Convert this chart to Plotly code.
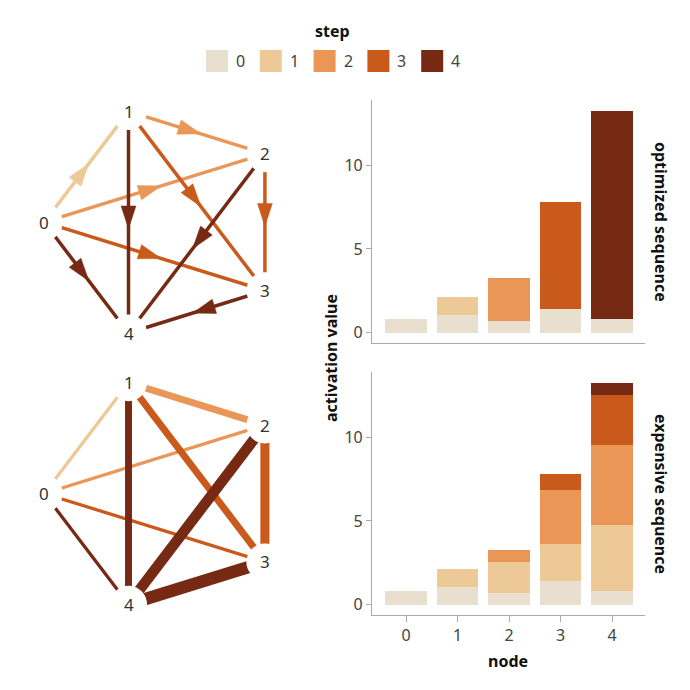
import numpy as np
import plotly.graph_objects as go

# Data
nodes = [0, 1, 2, 3, 4]
steps = [0, 1, 2, 3, 4]
STEP_COLORS = ['#e8dfcf', '#edc998', '#e99656', '#c95a1b', '#772a13']

# activation added to each node at each step (one list per step, indexed by node)
opt_step0 = [0.83, 1.04, 0.72, 1.40, 0.84]
opt_step1 = [0, 1.11, 0, 0, 0]
opt_step2 = [0, 0, 2.53, 0, 0]
opt_step3 = [0, 0, 0, 6.41, 0]
opt_step4 = [0, 0, 0, 0, 12.40]

exp_step0 = [0.83, 1.04, 0.72, 1.40, 0.84]
exp_step1 = [0, 1.11, 1.85, 2.21, 3.90]
exp_step2 = [0, 0, 0.68, 3.26, 4.78]
exp_step3 = [0, 0, 0, 0.94, 3.03]
exp_step4 = [0, 0, 0, 0, 0.69]

opt_gain = [opt_step0, opt_step1, opt_step2, opt_step3, opt_step4]
exp_gain = [exp_step0, exp_step1, exp_step2, exp_step3, exp_step4]

# graph edges (source, target); colour = step of the target
edge_src = [0, 0, 0, 0, 1, 1, 1, 2, 2, 3]
edge_dst = [1, 2, 3, 4, 2, 3, 4, 3, 4, 4]
# relative edge weight in the expensive sequence
exp_weight = [1.0, 1.0, 1.0, 1.0, 2.1, 2.1, 2.1, 2.75, 3.2, 3.8]

FONT = 'Noto Sans'
TXT = '#333333'
AXIS = '#aaaaaa'
W = H = 690


def px(v):
    return v / W


def py(v):
    return 1 - v / H


fig = go.Figure()

# ---- stacked bars ----
for s in steps:
    fig.add_trace(go.Bar(x=nodes, y=opt_gain[s], marker_color=STEP_COLORS[s], width=0.8,
                         marker_line_width=0, xaxis='x', yaxis='y', showlegend=False))
    fig.add_trace(go.Bar(x=nodes, y=exp_gain[s], marker_color=STEP_COLORS[s], width=0.8,
                         marker_line_width=0, xaxis='x2', yaxis='y2', showlegend=False))

# ---- node-link graphs ----
gx_range = [-1.3623, 1.2607]
gy_range = [-1.1399, 1.1348]
g_w, g_h = 320, 265           # pixel size of each graph panel
sx = g_w / (gx_range[1] - gx_range[0])
sy = g_h / (gy_range[1] - gy_range[0])

ang = np.deg2rad([180, 108, 36, -36, -108])
nx_ = np.cos(ang)
ny_ = np.sin(ang)

order = sorted(range(len(edge_src)), key=lambda k: edge_dst[k])
for k in order:
    a, b = edge_src[k], edge_dst[k]
    col = STEP_COLORS[b]
    # optimized: thin lines with an arrowhead just past the middle
    fig.add_trace(go.Scatter(
        x=[nx_[a], nx_[b]], y=[ny_[a], ny_[b]], mode='lines',
        line=dict(color=col, width=3.5),
        xaxis='x3', yaxis='y3', showlegend=False, hoverinfo='skip'))
    rot = np.degrees(np.arctan2((nx_[b] - nx_[a]) * sx, (ny_[b] - ny_[a]) * sy))
    t = 0.53
    fig.add_trace(go.Scatter(
        x=[nx_[a] + t * (nx_[b] - nx_[a])], y=[ny_[a] + t * (ny_[b] - ny_[a])],
        mode='markers',
        marker=dict(symbol='arrow', size=24, color=col, angle=rot, opacity=1,
                    line=dict(width=0.5, color=col)),
        xaxis='x3', yaxis='y3', showlegend=False, hoverinfo='skip'))
    # expensive: width encodes the weight
    fig.add_trace(go.Scatter(
        x=[nx_[a], nx_[b]], y=[ny_[a], ny_[b]], mode='lines',
        line=dict(color=col, width=3.3 * exp_weight[k]),
        xaxis='x4', yaxis='y4', showlegend=False, hoverinfo='skip'))

for xa, ya in [('x3', 'y3'), ('x4', 'y4')]:
    fig.add_trace(go.Scatter(
        x=nx_, y=ny_, mode='markers',
        marker=dict(size=37, color='white', line_width=0),
        xaxis=xa, yaxis=ya, showlegend=False, hoverinfo='skip'))
    for n in nodes:
        fig.add_annotation(x=nx_[n], y=ny_[n], xref=xa, yref=ya, text=str(n),
                           showarrow=False, xanchor='center', yanchor='middle',
                           font=dict(family=FONT, size=17, color=TXT))

# ---- axes ----
bar_x = [px(372), px(645)]
xr = [-0.66, 4.64]
yr = [-0.62, 13.9]
common_y = dict(range=yr, showline=True, linecolor=AXIS, linewidth=1.2, ticks='outside',
                ticklen=5, tickcolor=AXIS, tickvals=[0, 5, 10], showgrid=False,
                zeroline=False, tickfont=dict(family=FONT, size=16, color='#444'))
fig.update_layout(
    xaxis=dict(domain=bar_x, anchor='y', range=xr, showline=True, linecolor=AXIS,
               linewidth=1.2, ticks='', showticklabels=False, showgrid=False, zeroline=False),
    yaxis=dict(domain=[py(343), py(100)], anchor='x', **common_y),
    xaxis2=dict(domain=bar_x, anchor='y2', range=xr, showline=True, linecolor=AXIS,
                linewidth=1.2, ticks='outside', ticklen=6, tickcolor=AXIS, tickvals=nodes,
                showgrid=False, zeroline=False,
                tickfont=dict(family=FONT, size=16, color='#444')),
    yaxis2=dict(domain=[py(615), py(372)], anchor='x2', **common_y),
    xaxis3=dict(domain=[0, px(g_w)], anchor='y3', range=gx_range, visible=False),
    yaxis3=dict(domain=[py(90 + g_h), py(90)], anchor='x3', range=gy_range, visible=False),
    xaxis4=dict(domain=[0, px(g_w)], anchor='y4', range=gx_range, visible=False),
    yaxis4=dict(domain=[py(361.3 + g_h), py(361.3)], anchor='x4', range=gy_range,
                visible=False),
    barmode='stack',
    width=W, height=H,
    margin=dict(l=0, r=0, t=0, b=0),
    plot_bgcolor='white', paper_bgcolor='white',
    font=dict(family=FONT, color=TXT),
)


def label(text, x, y, angle=0, size=16, color='#111', xanchor='center'):
    fig.add_annotation(text=text, x=px(x), y=py(y), xref='paper', yref='paper',
                       textangle=angle, showarrow=False, xanchor=xanchor, yanchor='middle',
                       font=dict(family=FONT, size=size, color=color))


# ---- titles ----
label('<b>activation value</b>', 331, 358, angle=-90)
label('<b>node</b>', 508, 661)
label('<b>optimized sequence</b>', 661, 222, angle=90)
label('<b>expensive sequence</b>', 661, 494, angle=90)

# ---- legend ----
label('<b>step</b>', 332, 31)
for s in steps:
    x0 = 206 + 53.8 * s
    fig.add_shape(type='rect', xref='paper', yref='paper', x0=px(x0), x1=px(x0 + 22),
                  y0=py(72), y1=py(50), fillcolor=STEP_COLORS[s], line_width=0)
    label(str(s), x0 + 28, 61, color='#444', xanchor='left')

fig.write_html('out.html', config={'displayModeBar': False},
               post_script="document.body.style.margin='0';")
